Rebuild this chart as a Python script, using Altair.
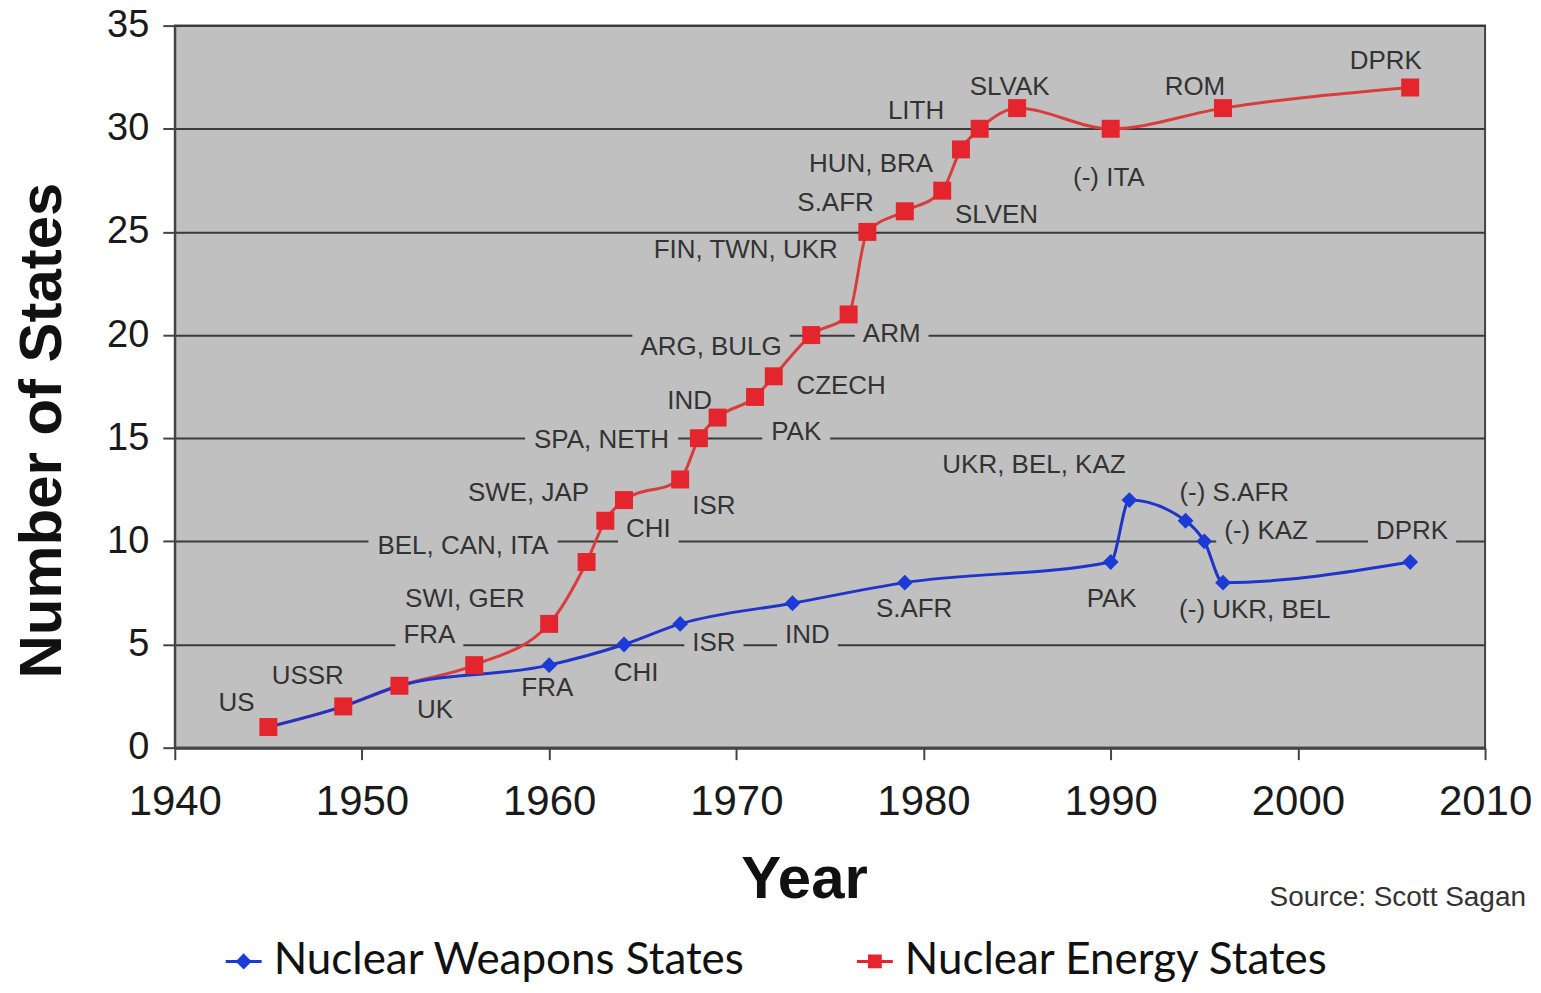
import altair as alt
import pandas as pd

# ---------------- data ----------------
series_names = ["Nuclear Weapons States", "Nuclear Energy States"]

energy_year = [1945, 1949, 1952, 1956, 1960, 1962, 1963, 1964, 1967, 1968, 1969, 1971,
               1972, 1974, 1976, 1977, 1979, 1981, 1982, 1983, 1985, 1990, 1996, 2006]
energy_count = [1, 2, 3, 4, 6, 9, 11, 12, 13, 15, 16, 17,
                18, 20, 21, 25, 26, 27, 29, 30, 31, 30, 31, 32]

weapons_year = [1945, 1949, 1952, 1960, 1964, 1967, 1973, 1979, 1990, 1991, 1994, 1995, 1996, 2006]
weapons_count = [1, 2, 3, 4, 5, 6, 7, 8, 9, 12, 11, 10, 8, 9]

label_text = ["US", "USSR", "UK", "FRA", "SWI, GER", "BEL, CAN, ITA", "SWE, JAP", "CHI", "ISR",
              "SPA, NETH", "IND", "PAK", "CZECH", "ARG, BULG", "ARM", "FIN, TWN, UKR", "S.AFR",
              "SLVEN", "HUN, BRA", "LITH", "SLVAK", "(-) ITA", "ROM", "DPRK",
              "FRA", "CHI", "ISR", "IND", "S.AFR", "PAK", "UKR, BEL, KAZ", "(-) S.AFR",
              "(-) KAZ", "DPRK", "(-) UKR, BEL"]
label_year = [1943.3, 1947.1, 1953.9, 1953.6, 1955.5, 1955.4, 1958.9, 1965.3, 1968.8,
              1962.8, 1967.5, 1973.2, 1975.6, 1968.65, 1978.3, 1970.5, 1975.3,
              1983.9, 1977.2, 1979.6, 1984.6, 1989.9, 1994.5, 2004.7,
              1959.9, 1964.65, 1968.8, 1973.8, 1979.5, 1990.05, 1985.9, 1996.6,
              1998.3, 2006.1, 1997.7]
label_value = [2.17, 3.47, 1.83, 5.45, 7.23, 9.79, 12.34, 10.6, 11.7,
               14.9, 16.8, 15.3, 17.55, 19.4, 20.06, 24.1, 26.4,
               25.8, 28.3, 30.86, 32.0, 27.6, 32.0, 33.3,
               2.9, 3.6, 5.06, 5.45, 6.7, 7.23, 13.7, 12.34,
               10.5, 10.5, 6.65]

# ---------------- styles ----------------
RED_LINE = "#d93c3c"
RED_MARK = "#e4252d"
BLUE_LINE = "#1f34c8"
BLUE_MARK = "#1b3ad6"
BG = "#c0c0c0"
W_PLOT, H_PLOT = 1312, 723
X_DOM, Y_DOM = [1940, 2010], [0, 35]
LABEL_FS = 26

markers = pd.concat([
    pd.DataFrame({"year": weapons_year, "count": weapons_count, "series": series_names[0]}),
    pd.DataFrame({"year": energy_year, "count": energy_count, "series": series_names[1]}),
], ignore_index=True)

labels = pd.DataFrame({"text": label_text, "year": label_year, "count": label_value})

# background boxes behind labels (they hide the gridlines, as in the original)
CW = {"A": .667, "B": .667, "C": .722, "D": .722, "E": .667, "F": .611, "G": .778, "H": .722,
      "I": .278, "J": .5, "K": .667, "L": .556, "M": .833, "N": .722, "O": .778, "P": .667,
      "Q": .778, "R": .722, "S": .667, "T": .611, "U": .722, "V": .667, "W": .944, "X": .667,
      "Y": .667, "Z": .611, ",": .278, " ": .278, ".": .278, "(": .333, ")": .333, "-": .333}
px_per_year = W_PLOT / (X_DOM[1] - X_DOM[0])
px_per_unit = H_PLOT / (Y_DOM[1] - Y_DOM[0])
half_w = labels["text"].map(lambda s: (sum(CW.get(c, .6) for c in s) * LABEL_FS / 2 + 8) / px_per_year)
half_h = 14 / px_per_unit
labels["x0"] = labels["year"] - half_w
labels["x1"] = labels["year"] + half_w
labels["y0"] = labels["count"] - half_h
labels["y1"] = labels["count"] + half_h

# ---------------- encodings ----------------
x_scale = alt.Scale(domain=X_DOM, nice=False, zero=False)
y_scale = alt.Scale(domain=Y_DOM, nice=False, zero=True)
x_axis = alt.Axis(values=list(range(1940, 2011, 10)), format="d", grid=False, labelFlush=False,
                  tickSize=12, tickWidth=2, tickColor="#444", domainColor="#444", domainWidth=3,
                  labelFont="Liberation Sans", labelFontSize=42, labelColor="#1a1a1a", labelPadding=22,
                  titleFont="Liberation Sans", titleFontSize=60, titleFontWeight="bold", titleColor="#111",
                  titleX=630, titleY=132, titleBaseline="middle", titleAlign="center")
y_axis = alt.Axis(values=list(range(0, 36, 5)), grid=True, gridColor="#3a3a3a", gridWidth=2, labelFlush=False,
                  tickSize=12, tickWidth=2, tickColor="#444", domainColor="#444", domainWidth=2,
                  labelFont="Liberation Sans", labelFontSize=38, labelColor="#1a1a1a", labelPadding=14,
                  titleFont="Liberation Sans", titleFontSize=60, titleFontWeight="bold", titleColor="#111",
                  titleX=-132, titleY=405, titleBaseline="middle", titleAlign="center", titleAngle=270)


def X(f):
    return alt.X(f, type="quantitative", scale=x_scale, axis=x_axis, title="Year")


def Y(f):
    return alt.Y(f, type="quantitative", scale=y_scale, axis=y_axis, title="Number of States")


base_m = alt.Chart(markers)

boxes = alt.Chart(labels).mark_rect(color=BG).encode(
    x=X("x0"), x2=alt.X2("x1"), y=Y("y0"), y2=alt.Y2("y1"))

red_line = base_m.transform_filter(alt.datum.series == series_names[1]).mark_line(
    color=RED_LINE, strokeWidth=3, interpolate="monotone").encode(x=X("year"), y=Y("count"))
blue_line = base_m.transform_filter(alt.datum.series == series_names[0]).mark_line(
    color=BLUE_LINE, strokeWidth=3, interpolate="monotone").encode(x=X("year"), y=Y("count"))
blue_pts = base_m.transform_filter(alt.datum.series == series_names[0]).mark_point(
    shape="diamond", filled=True, color=BLUE_MARK, size=250, opacity=1).encode(x=X("year"), y=Y("count"))
red_pts = base_m.transform_filter(alt.datum.series == series_names[1]).mark_point(
    shape="square", filled=True, color=RED_MARK, size=324, opacity=1).encode(x=X("year"), y=Y("count"))

texts = alt.Chart(labels).mark_text(font="Liberation Sans", fontSize=LABEL_FS, color="#333333",
                                    align="center", baseline="middle").encode(
    x=X("year"), y=Y("count"), text="text:N")

path_w = "M-1,0H1M0,-0.33L0.33,0L0,0.33L-0.33,0Z"
path_e = "M-1,0H1M-0.3,-0.3H0.3V0.3H-0.3Z"
leg = alt.Legend(title=None)
legend_layer = base_m.mark_point(filled=True, opacity=0, strokeWidth=3).encode(
    x=X("year"), y=Y("count"),
    color=alt.Color("series:N", scale=alt.Scale(domain=series_names, range=[BLUE_MARK, RED_MARK]), legend=leg),
    stroke=alt.Stroke("series:N", scale=alt.Scale(domain=series_names, range=[BLUE_MARK, RED_MARK]), legend=leg),
    shape=alt.Shape("series:N", scale=alt.Scale(domain=series_names, range=[path_w, path_e]), legend=leg),
)

chart = alt.layer(boxes, red_line, blue_line, blue_pts, red_pts, texts, legend_layer).properties(
    width=W_PLOT, height=H_PLOT,
    autosize=alt.AutoSizeParams(type="none"),
    padding={"left": 167, "top": 17, "right": 48, "bottom": 237},
    background="white",
    title=alt.TitleParams("Source: Scott Sagan", orient="bottom", anchor="end", frame="group",
                          font="Liberation Sans", fontSize=28, fontWeight="normal", color="#333333",
                          dx=41, dy=-103),
).configure_view(fill=BG, stroke="#444", strokeWidth=2).configure_legend(
    orient="none", legendX=47, legendY=915, direction="horizontal",
    labelFont="Lato", labelFontSize=44, labelColor="#111111", labelLimit=2000,
    symbolSize=1296, symbolStrokeWidth=3, symbolOpacity=1, labelOffset=8,
    columnPadding=105, padding=0, rowPadding=0,
)

chart.save("out.html", embed_options={"renderer": "svg", "actions": False})
